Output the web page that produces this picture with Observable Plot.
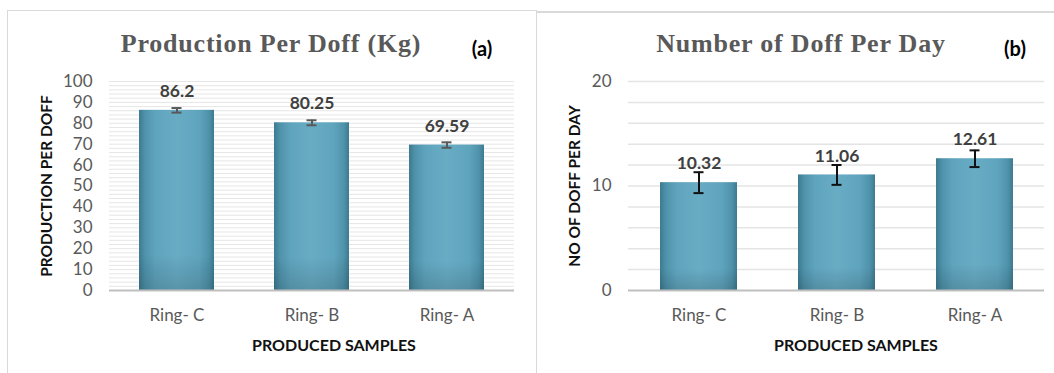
<!DOCTYPE html>
<html>
<head>
<meta charset="utf-8">
<script src="https://cdn.jsdelivr.net/npm/d3@7"></script>
<script src="https://cdn.jsdelivr.net/npm/@observablehq/plot@0.6"></script>
<style>
  html, body { margin: 0; padding: 0; background: #fff; }
  #wrap { position: relative; width: 1054px; height: 373px; overflow: hidden; background: #fff; font-family: Lato, "Open Sans", sans-serif; }
  .abs { position: absolute; white-space: nowrap; }
  .title { font-family: "Liberation Serif", serif; font-weight: bold; font-size: 26px; color: #595959; letter-spacing: 0.8px; transform: translateX(-50%); line-height: 1; }
  .tag { font-family: Lato, sans-serif; font-weight: bold; font-size: 20px; color: #000; transform: translateX(-50%); line-height: 1; }
  .xlab { font-family: Lato, sans-serif; font-weight: bold; font-size: 16px; color: #111; transform: translateX(-50%); line-height: 1; }
  .ylab { font-family: Lato, sans-serif; font-weight: bold; font-size: 15.5px; color: #111; transform: translate(-50%, -50%) rotate(-90deg); line-height: 1; }
</style>
</head>
<body>
<div id="wrap"></div>
<script>
// ---- data ----
const categories = ["Ring- C", "Ring- B", "Ring- A"];
const prodValues = [86.2, 80.25, 69.59];
const prodErrors = [1.1, 1.2, 1.3];
const doffValues = [10.32, 11.06, 12.61];
const doffErrors = [1.0, 0.95, 0.8];
const prodTicks = [0, 10, 20, 30, 40, 50, 60, 70, 80, 90, 100];
const doffTicks = [0, 10, 20];
const prodGrid = d3.range(2, 101, 2);
const doffGrid = d3.range(2, 21, 2);

const wrap = document.getElementById("wrap");

function addDiv(cls, text, left, top) {
  const d = document.createElement("div");
  d.className = "abs " + cls;
  d.textContent = text;
  d.style.left = left + "px";
  d.style.top = top + "px";
  wrap.appendChild(d);
  return d;
}

// panel borders
const b1 = document.createElement("div");
b1.className = "abs";
Object.assign(b1.style, {left: "7px", top: "10px", width: "528px", height: "380px", borderLeft: "1.5px solid #d9d9d9", borderTop: "1.5px solid #d9d9d9", borderRight: "1.5px solid #d9d9d9"});
wrap.appendChild(b1);
const b2 = document.createElement("div");
b2.className = "abs";
Object.assign(b2.style, {left: "536px", top: "11px", width: "530px", height: "380px", borderTop: "2px solid #d9d9d9"});
wrap.appendChild(b2);

function makePanel(cfg) {
  const data = categories.map((c, i) => ({cat: c, v: cfg.values[i], e: cfg.errors[i]}));
  const gid = cfg.id;
  const bw = cfg.bandWidth;
  const capInset = (bw - cfg.capWidth) / 2;
  const svg = Plot.plot({
    width: cfg.width,
    height: cfg.height,
    marginLeft: cfg.marginLeft,
    marginRight: cfg.marginRight,
    marginTop: cfg.marginTop,
    marginBottom: cfg.marginBottom,
    style: {fontFamily: "Lato, sans-serif", fontSize: "17px", color: "#595959", background: "transparent", overflow: "visible"},
    x: {domain: categories, paddingInner: 0.445, paddingOuter: 0.2225, label: null},
    y: {domain: [0, cfg.max], label: null},
    marks: [
      Plot.gridY(cfg.grid, {stroke: cfg.gridColor, strokeOpacity: 1, strokeWidth: cfg.gridWidth}),
      Plot.axisY(cfg.ticks, {tickSize: 0, tickPadding: 17, fill: "#595959", fontSize: 17, label: null}),
      Plot.axisX({tickSize: 0, tickPadding: 18, fill: "#595959", fontSize: 17, label: null}),
      Plot.barY(data, {x: "cat", y: "v", fill: `url(#${gid}h)`}),
      Plot.barY(data, {x: "cat", y: "v", fill: `url(#${gid}v)`}),
      Plot.ruleY([0], {stroke: "#bfbfbf", strokeWidth: 2}),
      Plot.ruleX(data, {x: "cat", y1: d => d.v - d.e, y2: d => d.v + d.e, stroke: cfg.errColor, strokeWidth: cfg.errWidth}),
      Plot.tickY(data, {x: "cat", y: d => d.v - d.e, insetLeft: capInset, insetRight: capInset, stroke: cfg.errColor, strokeWidth: cfg.errWidth}),
      Plot.tickY(data, {x: "cat", y: d => d.v + d.e, insetLeft: capInset, insetRight: capInset, stroke: cfg.errColor, strokeWidth: cfg.errWidth}),
      Plot.text(data, {x: "cat", y: "v", text: d => String(d.v), dy: -19, fontWeight: "bold", fontSize: 17.5, fill: "#404040"})
    ]
  });
  // gradients
  const defs = d3.select(svg).insert("defs", ":first-child");
  const h = defs.append("linearGradient").attr("id", gid + "h").attr("x1", "0").attr("x2", "1").attr("y1", "0").attr("y2", "0");
  [[0, "#3d7a90"], [0.08, "#4f93ab"], [0.22, "#5fa4bd"], [0.5, "#68acc4"], [0.8, "#5fa4bd"], [0.93, "#4f93ab"], [1, "#3d7a90"]]
    .forEach(([o, c]) => h.append("stop").attr("offset", o).attr("stop-color", c));
  const v = defs.append("linearGradient").attr("id", gid + "v").attr("x1", "0").attr("x2", "0").attr("y1", "0").attr("y2", "1");
  [[0, "#000", 0], [0.8, "#000", 0], [1, "#000", 0.14]]
    .forEach(([o, c, a]) => v.append("stop").attr("offset", o).attr("stop-color", c).attr("stop-opacity", a));
  svg.style.position = "absolute";
  svg.style.left = cfg.left + "px";
  svg.style.top = cfg.top + "px";
  wrap.appendChild(svg);
}

makePanel({
  id: "pa", values: prodValues, errors: prodErrors, ticks: prodTicks, grid: prodGrid, max: 100,
  left: 7, top: 11, width: 527, height: 362,
  marginLeft: 102, marginRight: 20, marginTop: 70, marginBottom: 83,
  bandWidth: 75, capWidth: 10, errColor: "#595959", errWidth: 2,
  gridColor: "#e6e6e6", gridWidth: 1
});

makePanel({
  id: "pb", values: doffValues, errors: doffErrors, ticks: doffTicks, grid: doffGrid, max: 20,
  left: 537, top: 11, width: 517, height: 362,
  marginLeft: 91, marginRight: 10, marginTop: 70, marginBottom: 83,
  bandWidth: 77, capWidth: 10, errColor: "#111", errWidth: 2,
  gridColor: "#e4e4e4", gridWidth: 1.5
});

// text: titles, tags, axis titles
addDiv("title", "Production Per Doff (Kg)", 271, 31);
addDiv("tag", "(a)", 482, 38);
addDiv("xlab", "PRODUCED SAMPLES", 334, 337);
addDiv("ylab", "PRODUCTION PER DOFF", 47, 186);

addDiv("title", "Number of Doff Per Day", 801, 31);
addDiv("tag", "(b)", 1015, 38);
addDiv("xlab", "PRODUCED SAMPLES", 856, 337);
addDiv("ylab", "NO OF DOFF PER DAY", 575, 186);
</script>
</body>
</html>
